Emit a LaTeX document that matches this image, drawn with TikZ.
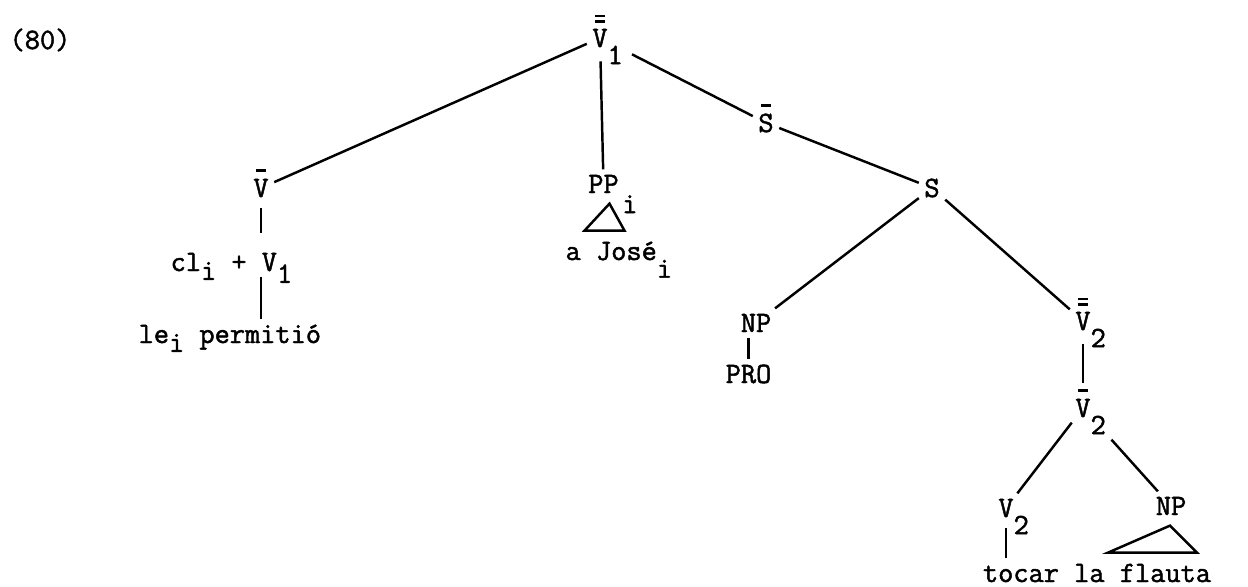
\documentclass[tikz,border=0pt]{standalone}
\usepackage{fontspec}
\setmonofont{Latin Modern Mono}[FakeBold=1.6]
\newcommand\onebar[1]{\ooalign{#1\cr\hfil\smash{\rule[0.86em]{0.34em}{0.085em}}\hfil\cr}}
\newcommand\twobar[1]{\ooalign{#1\cr\hfil\smash{\rule[0.82em]{0.34em}{0.085em}}\hfil\cr\hfil\smash{\rule[1.0em]{0.34em}{0.085em}}\hfil\cr}}
\newcommand\lowr[2][0.58em]{\smash{\raisebox{-#1}{#2}}}
\begin{document}
\begin{tikzpicture}[x=0.02cm, y=-0.02cm,
  every node/.style={font=\ttfamily\fontsize{16.8}{19}\selectfont, inner sep=3pt},
  tnode/.style={anchor=base},
  branch/.style={line width=1.4pt}]
\useasboundingbox (0,0) rectangle (1248,586);
\node[tnode] (ex) at (40,49) {(80)};
% top of the tree
\node[tnode] (vv1) at (600,47) {\twobar{V}\rlap{\lowr{1}}};
\node[tnode] (vbar) at (261,197) {\onebar{V}};
\node[tnode] (pp) at (603.5,193) {PP\rlap{\kern0.12em\lowr[0.68em]{i}}};
\node[tnode] (sbar) at (766,132) {\onebar{S}};
\node[tnode] (s) at (932,197) {S};
% left branch
\node[tnode,anchor=base west] (clv) at (165,271) {cl\lowr[0.3em]{i} + V\lowr[0.4em]{1}};
\node[tnode,anchor=base west] (lep) at (133,343) {le\lowr[0.3em]{i} permitió};
\node[tnode,anchor=base west] (jose) at (560,260) {a José\lowr[0.6em]{i}};
% right branch
\node[tnode] (np1) at (756,332) {NP};
\node[tnode] (pro) at (748.5,383) {PRO};
\node[tnode] (vv2) at (1083,330) {\twobar{V}\rlap{\lowr{2}}};
\node[tnode] (vb2) at (1083,417) {\onebar{V}\rlap{\lowr{2}}};
\node[tnode] (v2) at (1006,517) {V\rlap{\lowr{2}}};
\node[tnode] (np2) at (1171,515) {NP};
\node[tnode] (toc) at (1097,582) {tocar la flauta};
% branches
\draw[branch] (vv1) -- (vbar);
\draw[branch, shorten <=5pt] (vv1) -- (pp);
\draw[branch, shorten <=12pt] (vv1) -- (sbar);
\draw[branch] (sbar) -- (s);
\draw[branch] (s) -- (np1);
\draw[branch] (s) -- (vv2);
\draw[branch, shorten <=3pt, shorten >=8pt] (vbar.south) -- (vbar.south |- clv.north);
\draw[branch] (clv.south -| vbar) -- (lep.north -| vbar);
\draw[branch] (pro.north |- np1.south) -- (pro.north);
\draw[branch, shorten <=5pt, shorten >=6pt] (vv2) -- (vb2);
\draw[branch] (vb2) -- (v2);
\draw[branch, shorten <=13pt] (vb2) -- (np2);
\draw[branch, shorten <=3pt] (v2.south) -- (v2.south |- toc.north);
% triangles
\draw[branch] (pp.south) ++(6,5) -- ++(-25,27) -- ++(40,0) -- cycle;
\draw[branch] (np2.south) ++(-1,5) -- ++(-62,27) -- ++(89,0) -- cycle;
\end{tikzpicture}
\end{document}
